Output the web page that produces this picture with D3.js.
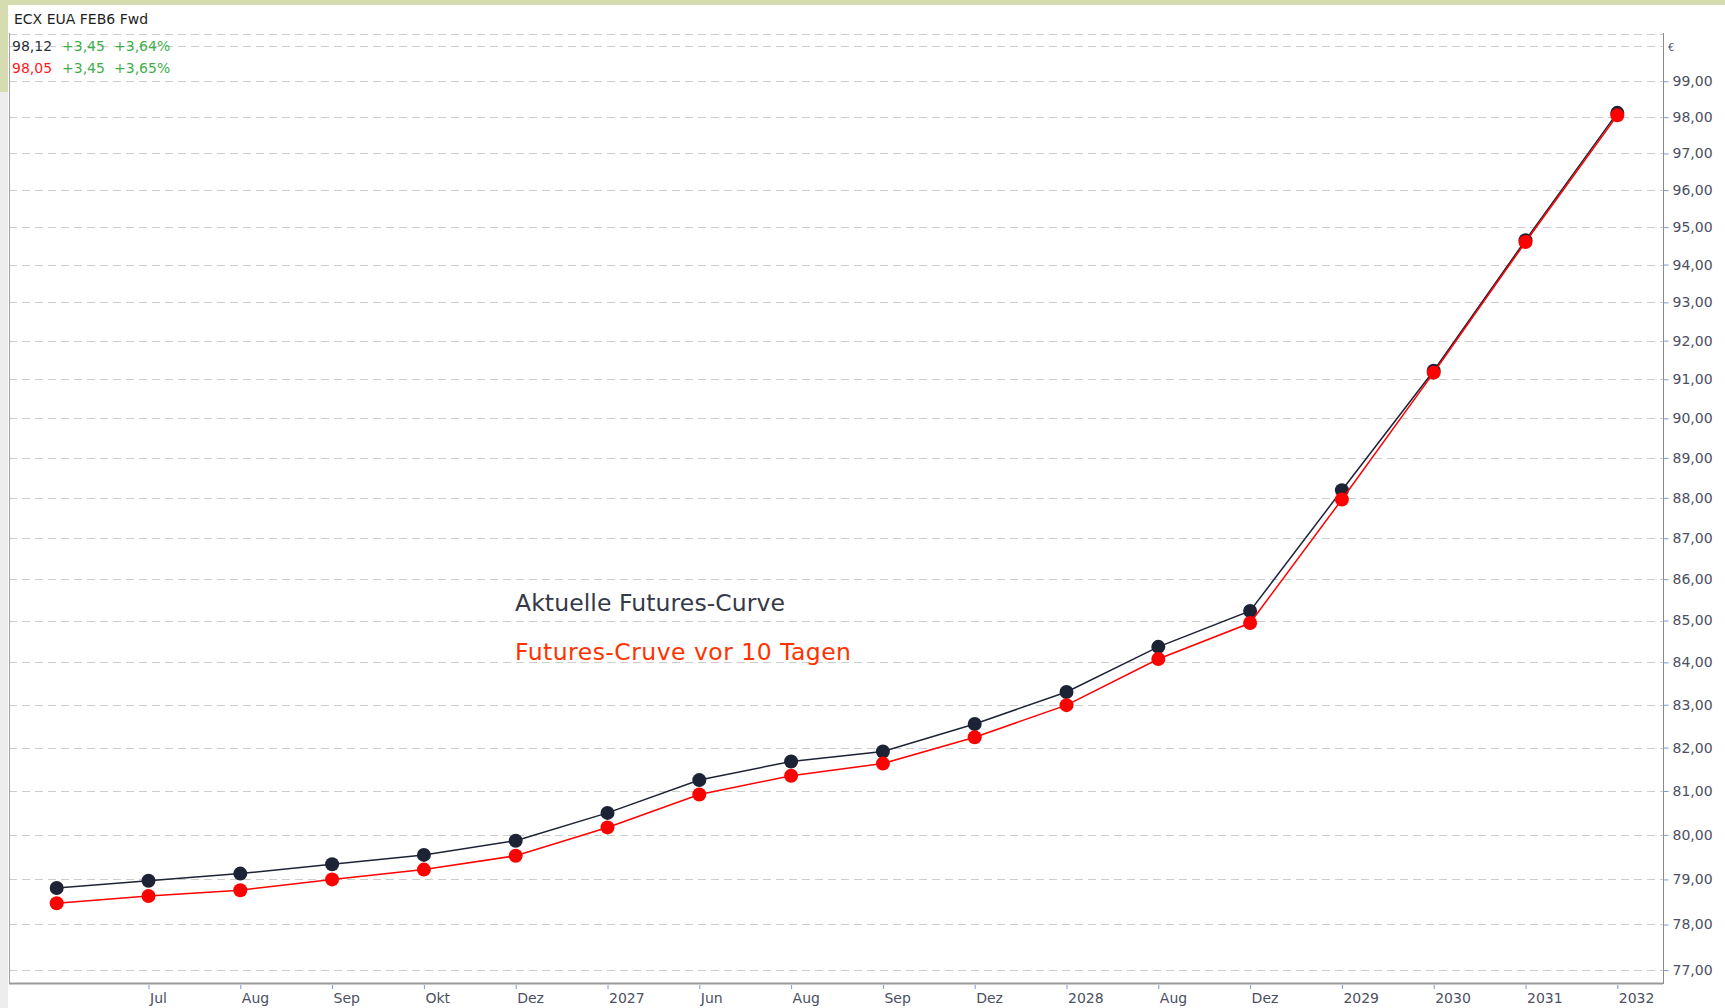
<!DOCTYPE html>
<html>
<head>
<meta charset="utf-8">
<script src="https://cdn.jsdelivr.net/npm/d3@7"></script>
<style>
  body { margin: 0; background: #fff; }
  svg { display: block; font-family: "DejaVu Sans", Verdana, sans-serif; }
</style>
</head>
<body>
<div id="chart"></div>
<script>
// tick labels under each contract (first contract has no label)
const tickLabels = ["", "Jul", "Aug", "Sep", "Okt", "Dez", "2027", "Jun", "Aug", "Sep", "Dez", "2028", "Aug", "Dez", "2029", "2030", "2031", "2032"];
// current futures curve (EUR)
const currentCurve = [78.81, 78.97, 79.13, 79.34, 79.55, 79.87, 80.50, 81.25, 81.68, 81.91, 82.55, 83.30, 84.37, 85.23, 88.19, 91.22, 94.65, 98.12];
// futures curve 10 days ago
const oldCurve = [78.47, 78.63, 78.76, 79.00, 79.22, 79.53, 80.17, 80.92, 81.35, 81.63, 82.24, 82.99, 84.08, 84.94, 87.96, 91.17, 94.60, 98.05];
const yTicks = d3.range(77, 100);

const width = 1725;
const height = 1008;
const plot = { left: 9, right: 1663, top: 33, bottom: 983 };

const darkColor = "#1c2335";
const redColor = "#ff0000";

const svg = d3.create("svg")
    .attr("width", width)
    .attr("height", height);

//background bits of the window
svg.append("rect").attr("x", 0).attr("y", 0).attr("width", width).attr("height", 5).attr("fill", "#d5ddb0");
svg.append("rect").attr("x", 0).attr("y", 0).attr("width", 8).attr("height", 92).attr("fill", "#d5ddb0");
svg.append("rect").attr("x", 0).attr("y", 92).attr("width", 8).attr("height", height - 92).attr("fill", "#ededed");

//scales - price axis is logarithmic
const x = d3.scalePoint()
    .domain(d3.range(tickLabels.length))
    .range([56.7, 1617.3]);

const y = d3.scaleLog()
    .domain([76.72, 100.36])
    .range([plot.bottom, plot.top]);

//grid lines
const grid = svg.append("g");
grid.selectAll("line")
    .data(yTicks.concat([100]))
    .join("line")
    .attr("x1", plot.left)
    .attr("x2", plot.right)
    .attr("y1", d => Math.round(y(d)) + 0.5)
    .attr("y2", d => Math.round(y(d)) + 0.5)
    .attr("stroke", "#cdcdcd")
    .attr("stroke-dasharray", "8,5");
grid.append("line")
    .attr("x1", plot.left).attr("x2", plot.right)
    .attr("y1", plot.top + 1.5).attr("y2", plot.top + 1.5)
    .attr("stroke", "#cdcdcd")
    .attr("stroke-dasharray", "8,5");

//frame
svg.append("line").attr("x1", plot.left + 0.5).attr("x2", plot.left + 0.5).attr("y1", plot.top).attr("y2", plot.bottom)
    .attr("stroke", "#a0a0a0");
svg.append("line").attr("x1", plot.left).attr("x2", plot.right).attr("y1", plot.bottom + 0.5).attr("y2", plot.bottom + 0.5)
    .attr("stroke", "#9a9a9a").attr("stroke-width", 2);

//right price axis
const yAxis = svg.append("g")
    .attr("transform", `translate(${plot.right + 0.5},0)`)
    .call(d3.axisRight(y).tickValues(yTicks).tickSize(5).tickPadding(4)
        .tickFormat(d => d.toFixed(2).replace(".", ",")));
yAxis.select(".domain").attr("stroke", "#8a8a8a").attr("d", `M0,${plot.top}V${plot.bottom + 1}`);
yAxis.selectAll(".tick line").attr("stroke", "#7b9bd6");
yAxis.selectAll(".tick text")
    .attr("fill", "#4b5062")
    .style("font-size", "14px")
    .style("font-family", "DejaVu Sans");

svg.append("text")
    .attr("x", plot.right + 5)
    .attr("y", y(100) + 5)
    .attr("fill", "#4b5062")
    .style("font-size", "10px")
    .text("€");

//bottom time axis, labels start at the tick
const xAxis = svg.append("g")
    .attr("transform", `translate(0,${plot.bottom + 2})`)
    .call(d3.axisBottom(x).tickValues(d3.range(1, tickLabels.length)).tickSize(4).tickPadding(4)
        .tickFormat(i => tickLabels[i]));
xAxis.select(".domain").remove();
xAxis.selectAll(".tick line").attr("stroke", "#7b9bd6");
xAxis.selectAll(".tick text")
    .attr("text-anchor", "start")
    .attr("x", 1)
    .attr("fill", "#4b5062")
    .style("font-size", "14px")
    .style("font-family", "DejaVu Sans");

//the two curves
const line = d3.line()
    .x((d, i) => x(i))
    .y(d => y(d));

const series = [
    { values: currentCurve, color: darkColor },
    { values: oldCurve, color: redColor }
];

series.forEach(s => {
    svg.append("path")
        .datum(s.values)
        .attr("fill", "none")
        .attr("stroke", s.color)
        .attr("stroke-width", 1.5)
        .attr("d", line);
    svg.append("g")
        .selectAll("circle")
        .data(s.values)
        .join("circle")
        .attr("cx", (d, i) => x(i))
        .attr("cy", d => y(d))
        .attr("r", 7)
        .attr("fill", s.color);
});

//header and readouts
const fmt = v => v.toFixed(2).replace(".", ",");
svg.append("text")
    .attr("x", 14)
    .attr("y", 24)
    .attr("fill", "#1e1e1e")
    .style("font-size", "14px")
    .text("ECX EUA FEB6 Fwd");

const readouts = [
    { last: currentCurve[currentCurve.length - 1], chg: "+3,45", pct: "+3,64%", color: "#2b2f3c" },
    { last: oldCurve[oldCurve.length - 1], chg: "+3,45", pct: "+3,65%", color: "#ff1a1a" }
];
readouts.forEach((r, i) => {
    const row = svg.append("text")
        .attr("y", 51 + i * 21.5)
        .style("font-size", "14px");
    row.append("tspan").attr("x", 12).attr("fill", r.color).text(fmt(r.last));
    row.append("tspan").attr("x", 62).attr("fill", "#3fae49").text(r.chg);
    row.append("tspan").attr("x", 114).attr("fill", "#3fae49").text(r.pct);
});

//annotations
svg.append("text")
    .attr("x", 515)
    .attr("y", 611)
    .attr("fill", "#343a48")
    .attr("textLength", 270)
    .style("font-size", "23.5px")
    .text("Aktuelle Futures-Curve");
svg.append("text")
    .attr("x", 515)
    .attr("y", 660)
    .attr("fill", "#ff3300")
    .attr("textLength", 336)
    .style("font-size", "23.5px")
    .text("Futures-Cruve vor 10 Tagen");

d3.select("#chart").node().append(svg.node());
</script>
</body>
</html>
